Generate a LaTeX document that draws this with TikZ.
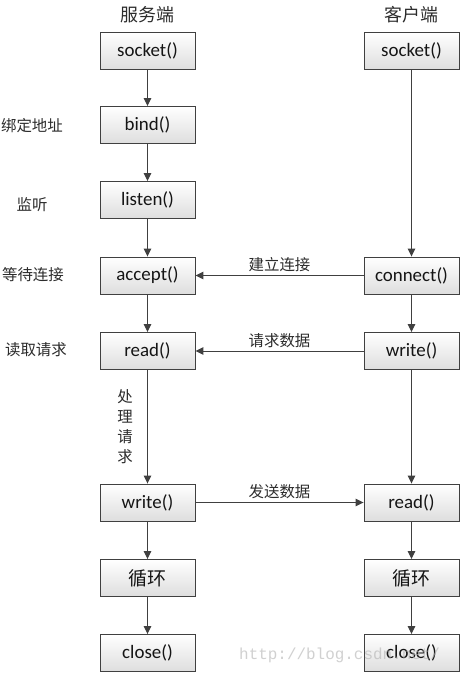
\documentclass[tikz,border=0pt]{standalone}
\usepackage{fontspec}
\setmainfont{Carlito}
\newfontfamily\cjk{Noto Sans CJK SC}
\newfontfamily\wmfont{Liberation Mono}
\usetikzlibrary{arrows.meta}
\definecolor{linec}{HTML}{404040}
\definecolor{textc}{HTML}{151515}
\tikzset{
  x=1bp, y=-1bp,
  box/.style={draw=linec, line width=0.9bp, top color=white, bottom color=black!13,
    minimum width=95bp, minimum height=37bp, inner sep=0pt, text=textc,
    font=\fontsize{19}{21}\selectfont},
  cjkbox/.style={box, font=\cjk\fontsize{19}{21}\selectfont},
  conn/.style={draw=linec, line width=1bp, -{Triangle[length=8bp,width=7.5bp]}},
  lbl/.style={text=textc!90, font=\cjk\fontsize{15.5}{20}\selectfont, inner sep=0pt},
  head/.style={text=textc!90, font=\cjk\fontsize{18}{20}\selectfont, inner sep=0pt},
}
\begin{document}
\begin{tikzpicture}
\useasboundingbox (0,0) rectangle (462,675);
\fill[white] (0,0) rectangle (462,675);
% headers
\node[head] (hs) at (147.5,15) {服务端};
\node[head] (hc) at (411.5,15) {客户端};
% server column
\node[box] (s1) at (147.5,51) {socket()};
\node[box] (s2) at (147.5,125) {bind()};
\node[box] (s3) at (147.5,200) {listen()};
\node[box] (s4) at (147.5,275.5) {accept()};
\node[box] (s5) at (147.5,351) {read()};
\node[box] (s6) at (147.5,502.5) {write()};
\node[cjkbox] (s7) at (147.5,578) {循环};
\node[box] (s8) at (147.5,653) {close()};
% client column
\node[box] (c1) at (411.5,51) {socket()};
\node[box] (c2) at (411.5,275.5) {connect()};
\node[box] (c3) at (411.5,351) {write()};
\node[box] (c4) at (411.5,502.5) {read()};
\node[cjkbox] (c5) at (411.5,578) {循环};
\node[box] (c6) at (411.5,653) {close()};
% side labels
\node[lbl] (l1) at (32,126) {绑定地址};
\node[lbl] (l2) at (32,205) {监听};
\node[lbl] (l3) at (33,275) {等待连接};
\node[lbl] (l4) at (36,350) {读取请求};
% vertical arrows
\draw[conn] (s1) -- (s2);
\draw[conn] (s2) -- (s3);
\draw[conn] (s3) -- (s4);
\draw[conn] (s4) -- (s5);
\draw[conn] (s5) -- (s6);
\draw[conn] (s6) -- (s7);
\draw[conn] (s7) -- (s8);
\draw[conn] (c1) -- (c2);
\draw[conn] (c2) -- (c3);
\draw[conn] (c3) -- (c4);
\draw[conn] (c4) -- (c5);
\draw[conn] (c5) -- (c6);
% horizontal arrows
\draw[conn] (c2) -- node[lbl, above=3bp] (m1) {建立连接} (s4);
\draw[conn] (c3) -- node[lbl, above=3bp] (m2) {请求数据} (s5);
\draw[conn] (s6) -- node[lbl, above=3bp] (m3) {发送数据} (c4);
% vertical label
\node[lbl, align=center, font=\cjk\fontsize{15.5}{20}\selectfont] (v1) at (125,427) {处\\理\\请\\求};
% watermark
\node[anchor=west, text=black!30, opacity=0.6, font=\wmfont\fontsize{16}{18}\selectfont, inner sep=0pt] (wm) at (239,655) {http://blog.csdn.net/};
\end{tikzpicture}
\end{document}
